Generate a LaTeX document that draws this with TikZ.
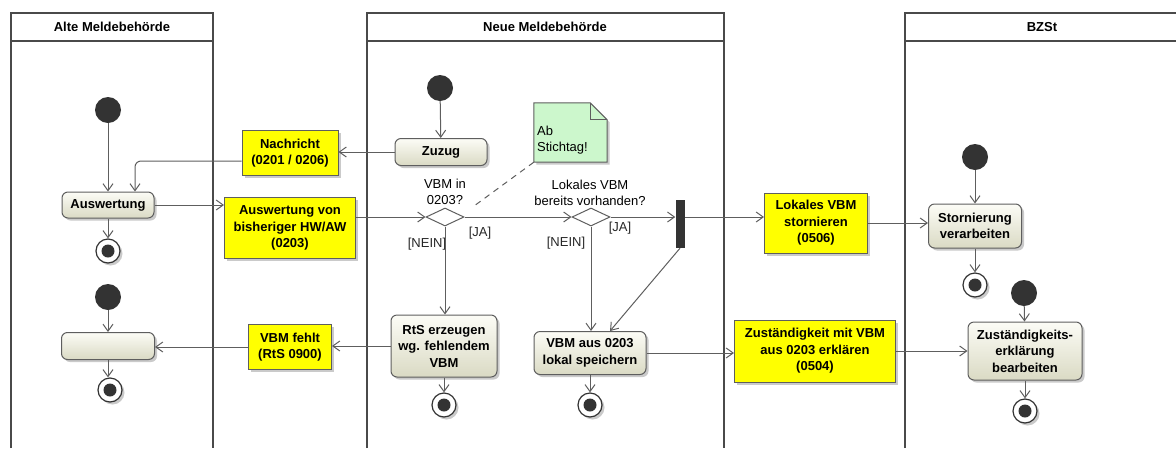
\documentclass[tikz,border=0pt]{standalone}
\usepackage{fontspec}
\setmainfont{Liberation Sans}
\usetikzlibrary{arrows.meta,shapes.geometric,shadows,calc}

\definecolor{lanegray}{HTML}{4A4A4A}
\definecolor{flowgray}{HTML}{5E5E5E}
\definecolor{msgyellow}{HTML}{FFFF00}
\definecolor{notegreen}{HTML}{CCF7CC}
\definecolor{acttop}{HTML}{FCFCF6}
\definecolor{actbot}{HTML}{DADAC4}
\definecolor{dotgray}{HTML}{333333}

\tikzset{
  lane/.style={draw=lanegray, line width=1.6pt},
  lanetitle/.style={font=\bfseries},
  shade/.style={drop shadow={shadow xshift=2.5pt, shadow yshift=-2.5pt, fill=black!35, opacity=0.6}},
  action/.style={draw=flowgray, line width=1pt, rounded corners=6pt, top color=acttop,
    bottom color=actbot, font=\bfseries, align=center, inner sep=2pt, shade},
  message/.style={draw=flowgray, line width=1pt, fill=msgyellow, font=\bfseries,
    align=center, inner sep=2pt, shade},
  startnode/.style={circle, fill=dotgray, minimum size=26pt, inner sep=0pt},
  endnode/.style={circle, draw=dotgray, line width=1.2pt, fill=white, minimum size=24pt,
    inner sep=0pt, shade,
    path picture={\fill[dotgray] (path picture bounding box.center) circle (6.5pt);}},
  decision/.style={diamond, draw=flowgray, line width=1pt, fill=white, minimum width=38pt,
    minimum height=18pt, inner sep=0pt},
  forkbar/.style={fill=dotgray, minimum width=9pt, minimum height=48pt, inner sep=0pt},
  flow/.style={draw=flowgray, line width=1pt, -{Straight Barb[length=7pt,width=10pt]}},
  guard/.style={text=black!85},
}

\begin{document}
\begin{tikzpicture}[x=1pt, y=-1pt, execute at begin picture={\fontsize{13}{16.5}\selectfont}]
\useasboundingbox (0,0) rectangle (1176,448);

% Lanes
\draw[lane] (11,448) -- (11,13) -- (213,13) -- (213,448);
\draw[lane] (11,41) -- (213,41);
\draw[lane] (367,448) -- (367,13) -- (724,13) -- (724,448);
\draw[lane] (367,41) -- (724,41);
\draw[lane] (905,448) -- (905,13) -- (1180,13);
\draw[lane] (905,41) -- (1180,41);

% Lane titles
\node[lanetitle] (tAlt) at (112,27) {Alte Meldebehörde};
\node[lanetitle] (tNeu) at (545,27) {Neue Meldebehörde};
\node[lanetitle] (tBZSt) at (1042,27) {BZSt};

% Alte Meldebehoerde
\node[startnode] (s1) at (108,110) {};
\node[action, minimum width=92pt, minimum height=26pt] (ausw) at (108,205) {Auswertung};
\node[endnode] (e1) at (108,251) {};
\node[startnode] (s2) at (108,297) {};
\node[action, minimum width=93pt, minimum height=27pt] (leer) at (108,346) {};
\node[endnode] (e2) at (110,390) {};

% Messages between Alte and Neue
\node[message, minimum width=96pt, minimum height=45pt] (nachr) at (290,153) {Nachricht\\(0201 / 0206)};
\node[message, minimum width=131pt, minimum height=61pt] (auswvon) at (290,228) {Auswertung von\\bisheriger HW/AW\\(0203)};
\node[message, minimum width=83pt, minimum height=45pt] (fehlt) at (290,347) {VBM fehlt\\(RtS 0900)};

% Neue Meldebehoerde
\node[startnode] (s3) at (440,88) {};
\node[action, minimum width=92pt, minimum height=27pt] (zuzug) at (441,152) {Zuzug};
\node[decision] (d1) at (445,217) {};
\node[align=center] (q1) at (445,192) {VBM in\\0203?};
\node[guard] (ja1) at (480,233) {[JA]};
\node[guard] (nein1) at (427,244) {[NEIN]};
\node[action, minimum width=106pt, minimum height=62pt] (rts) at (444,346) {RtS erzeugen\\wg. fehlendem\\VBM};
\node[endnode] (e3) at (444,405) {};

\node[decision] (d2) at (591,217) {};
\node[align=center] (q2) at (590,193) {Lokales VBM\\bereits vorhanden?};
\node[guard] (ja2) at (620,228) {[JA]};
\node[guard] (nein2) at (566,243) {[NEIN]};
\node[forkbar] (fork) at (680,224) {};
\node[action, minimum width=112pt, minimum height=43pt] (lokal) at (590,353) {VBM aus 0203\\lokal speichern};
\node[endnode] (e4) at (590,405) {};

% Note
\node[minimum width=73pt, minimum height=59pt, inner sep=0pt] (note) at (570.5,132.5) {};
\filldraw[draw=flowgray, fill=notegreen, line width=1pt, shade]
  (note.north west) -- ($(note.north east)+(-17,0)$) -- ($(note.north east)+(0,17)$)
  -- (note.south east) -- (note.south west) -- cycle;
\draw[flowgray, line width=1pt] ($(note.north east)+(-17,0)$) |- ($(note.north east)+(0,17)$);
\node[anchor=west, align=left, inner sep=0pt] (notetext) at (537,140) {Ab\\Stichtag!};

% Messages between Neue and BZSt
\node[message, minimum width=103pt, minimum height=60pt] (storn) at (816,223) {Lokales VBM\\stornieren\\(0506)};
\node[message, minimum width=161pt, minimum height=62pt] (zust) at (815,351) {Zuständigkeit mit VBM\\aus 0203 erklären\\(0504)};

% BZSt
\node[startnode] (s4) at (975,157) {};
\node[action, minimum width=93pt, minimum height=44pt] (stornv) at (975,226) {Stornierung\\verarbeiten};
\node[endnode] (e5) at (975,285) {};
\node[startnode] (s5) at (1024,293) {};
\node[action, minimum width=114pt, minimum height=58pt] (zustv) at (1025,351) {Zuständigkeits-\\erklärung\\bearbeiten};
\node[endnode] (e6) at (1025,411) {};

% Flows
\draw[flow] (s1) -- (ausw);
\draw[flow] (ausw) -- (e1);
\draw[flow] (s2) -- (leer);
\draw[flow] (leer) -- (e2.north -| leer.south);
\draw[flow, rounded corners=6pt] ($(nachr.west)+(0,8)$) -| ($(ausw.north)+(27,0)$);
\draw[flow] (ausw.east) -- (ausw.east -| auswvon.west);
\draw[flow] (auswvon.east |- d1) -- (d1.west);
\draw[flow] (zuzug.west) -- (zuzug.west -| nachr.east);
\draw[flow] (s3) -- (zuzug);
\draw[flow] (d1.south) -- (d1.south |- rts.north);
\draw[flow] (d1.east) -- (d2.west);
\draw[flowgray, line width=1pt, dashed, dash pattern=on 6pt off 5pt] (note.south west) -- ($(d1.north)+(27,0)$);
\draw[flow] (rts.west) -- (rts.west -| fehlt.east);
\draw[flow] (fehlt.west) -- (fehlt.west -| leer.east);
\draw[flow] (rts) -- (e3);
\draw[flow] (d2.east) -- (fork.west |- d2);
\draw[flow] (d2.south) -- (d2.south |- lokal.north);
\draw[flow] (fork.south) -- ($(lokal.north)+(20,0)$);
\draw[flow] (lokal) -- (e4);
\draw[flow] (fork.east |- d2) -- (storn.west |- d2);
\draw[flow] (lokal.east) -- (lokal.east -| zust.west);
\draw[flow] (storn.east) -- (storn.east -| stornv.west);
\draw[flow] (zust.east) -- (zust.east -| zustv.west);
\draw[flow] (s4) -- (stornv);
\draw[flow] (stornv) -- (e5);
\draw[flow] (s5) -- (zustv);
\draw[flow] (zustv) -- (e6);

\end{tikzpicture}
\end{document}
